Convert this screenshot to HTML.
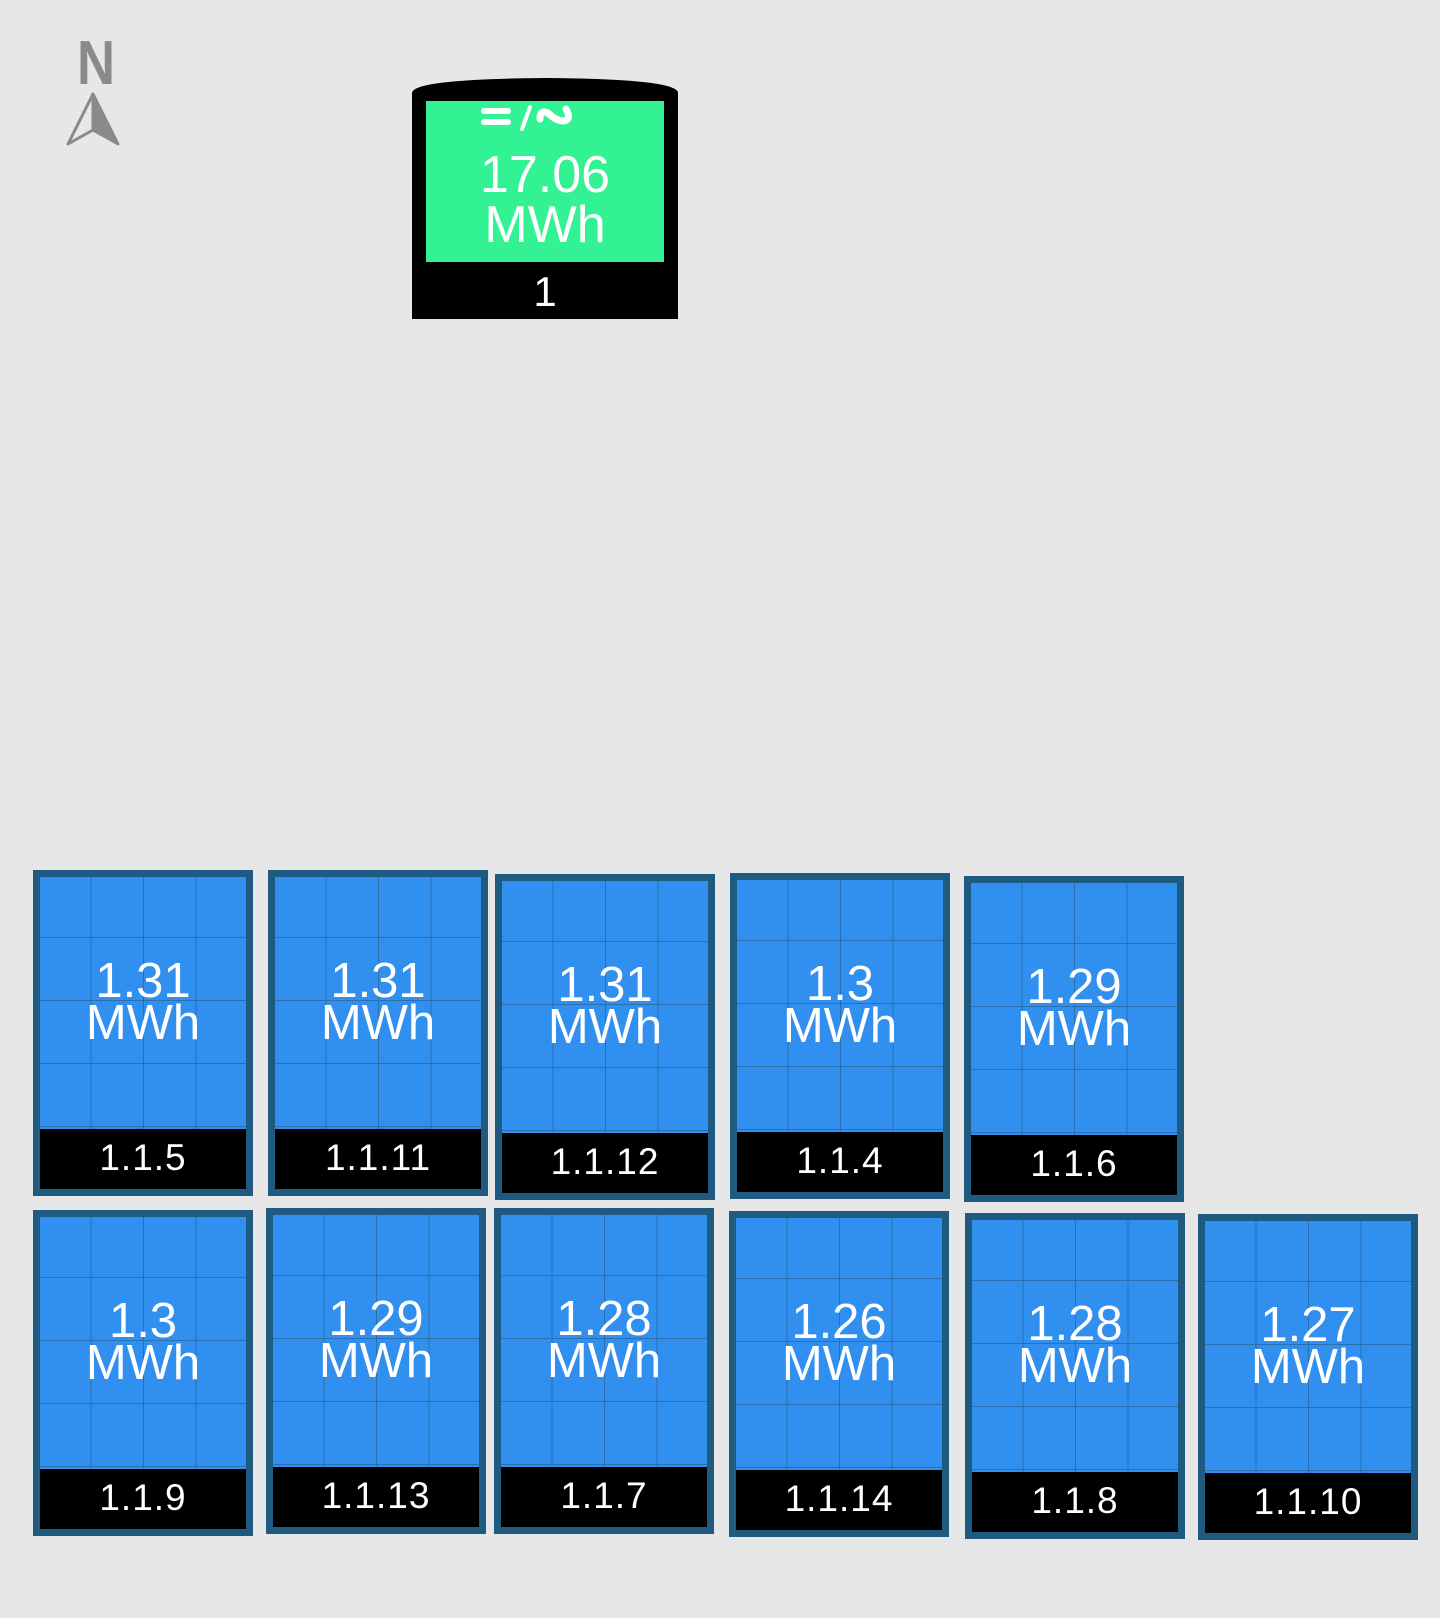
<!DOCTYPE html>
<html><head><meta charset="utf-8"><style>
html,body{margin:0;padding:0;background:#e7e7e7;}
body{width:1440px;height:1618px;position:relative;overflow:hidden;font-family:"Liberation Sans",sans-serif;}
.tile{position:absolute;width:206px;height:312px;border:7px solid #1f5a80;background:#318fef;box-sizing:content-box;}
.grid{position:absolute;left:0;top:0;width:206px;height:252px;
 background-image:linear-gradient(to right,#2a6fae 1px,transparent 1px),linear-gradient(to bottom,#2a6fae 1px,transparent 1px);
 background-size:52.5px 63px;background-position:-2px -3px;}
.band{position:absolute;left:0;top:252px;width:206px;height:60px;background:#000;color:#fff;font-size:37px;text-align:center;line-height:58px;letter-spacing:1px;}
.val{position:absolute;left:0;width:206px;text-align:center;color:#fff;font-size:49px;line-height:48px;}
</style></head><body>
<div style="position:absolute;left:66px;top:36px;width:60px;height:110px;">
 <div style="position:absolute;left:0;top:0;width:60px;text-align:center;font-size:62px;line-height:56px;color:#8a8a8a;font-weight:bold;transform:scaleX(0.85);">N</div>
 <svg width="60" height="60" style="position:absolute;left:0;top:56px">
  <path d="M27 2 L2 52 L27 38 Z" fill="none" stroke="#8a8a8a" stroke-width="3" stroke-linejoin="round"/>
  <path d="M27 2 L52 52 L27 38 Z" fill="#8a8a8a" stroke="#8a8a8a" stroke-width="3" stroke-linejoin="round"/>
 </svg>
</div>
<div style="position:absolute;left:412px;top:75px;width:266px;height:244px;">
 <svg width="266" height="30" style="position:absolute;left:0;top:0"><path d="M0 30 L0 18 Q0 4 133 3 Q266 4 266 18 L266 30 Z" fill="#000"/></svg>
 <div style="position:absolute;left:0;top:20px;width:266px;height:224px;background:#000"></div>
 <div style="position:absolute;left:14px;top:26px;width:238px;height:161px;background:#33f293;color:#fff;text-align:center;">
  <svg width="238" height="36" style="position:absolute;left:0;top:0">
   <g stroke="#fff" stroke-linecap="round" fill="none">
    <line x1="58" y1="10" x2="82" y2="10" stroke-width="6"/>
    <line x1="58" y1="21" x2="82" y2="21" stroke-width="6"/>
    <line x1="96" y1="28" x2="104" y2="6" stroke-width="4"/>
    <path d="M118 18 Q118 8 126 12 Q134 20 142 20 Q150 18 144 8" stroke-width="7" transform="translate(-4,0)"/>
   </g>
  </svg>
  <div style="position:absolute;left:0;top:48px;width:238px;font-size:52px;line-height:52px;">17.06</div>
  <div style="position:absolute;left:0;top:98px;width:238px;font-size:52px;line-height:52px;">MWh</div>
 </div>
 <div style="position:absolute;left:0;top:190px;width:266px;text-align:center;color:#fff;font-size:42px;line-height:54px;">1</div>
</div>
<div id="tiles"></div>
<script>
const labels=["1.1.5","1.1.11","1.1.12","1.1.4","1.1.6","1.1.9","1.1.13","1.1.7","1.1.14","1.1.8","1.1.10"];
const values=[1.31,1.31,1.31,1.3,1.29,1.3,1.29,1.28,1.26,1.28,1.27];
const layout=[[33,870],[268,870],[495,874],[730,873],[964,876],[33,1210],[266,1208],[494,1208],[729,1211],[965,1213],[1198,1214]];
const host=document.getElementById('tiles');
labels.forEach((lab,i)=>{
 const t=document.createElement('div');
 t.className='tile';
 
 
 t.style.left=layout[i][0]+'px';t.style.top=layout[i][1]+'px';
 const g=document.createElement('div');g.className='grid';
 
 
 t.appendChild(g);
 const v=document.createElement('div');v.className='val';v.style.top='80px';v.textContent=String(values[i]);
 
 
 t.appendChild(v);
 const u=document.createElement('div');u.className='val';u.style.top='122px';u.textContent='MWh';
 
 
 t.appendChild(u);
 const b=document.createElement('div');b.className='band';b.textContent=lab;
 
 
 t.appendChild(b);
 host.appendChild(t);
});
</script>
</body></html>
